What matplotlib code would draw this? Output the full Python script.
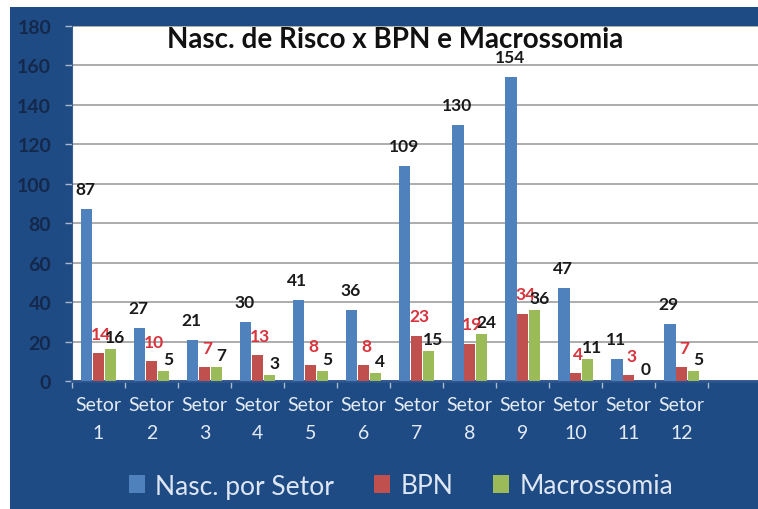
import matplotlib
matplotlib.use("Agg")
import matplotlib.pyplot as plt
from matplotlib.patches import Rectangle
import numpy as np

categories = ["Setor\n1", "Setor\n2", "Setor\n3", "Setor\n4", "Setor\n5", "Setor\n6",
              "Setor\n7", "Setor\n8", "Setor\n9", "Setor\n10", "Setor\n11", "Setor\n12"]
nasc = [87, 27, 21, 30, 41, 36, 109, 130, 154, 47, 11, 29]
bpn = [14, 10, 7, 13, 8, 8, 23, 19, 34, 4, 3, 7]
macro = [16, 5, 7, 3, 5, 4, 15, 24, 36, 11, 0, 5]
series_names = ["Nasc. por Setor", "BPN", "Macrossomia"]
yticks = [0, 20, 40, 60, 80, 100, 120, 140, 160, 180]
title = "Nasc. de Risco x BPN e Macrossomia"

plt.rcParams['font.family'] = ['Lato', 'DejaVu Sans']

W, H = 758, 510
fig = plt.figure(figsize=(W / 100, H / 100), dpi=100)
fig.patch.set_facecolor("white")
bg = "#1F4B84"
fig.patches.append(Rectangle((10 / W, 0.0), 1 - 10 / W, 1 - 8 / H, transform=fig.transFigure,
                             facecolor=bg, edgecolor="none", zorder=-10))

ax = fig.add_axes([72 / W, 1 - 382 / H, 1 - 72 / W, (382 - 27) / H])
ax.set_facecolor("white")

x = np.arange(len(categories))
w = 0.21
cols = ["#4F81BD", "#C0504D", "#9BBB59"]
b1 = ax.bar(x - 0.22, nasc, w, color=cols[0], label=series_names[0], zorder=3)
b2 = ax.bar(x, bpn, w, color=cols[1], label=series_names[1], zorder=3)
b3 = ax.bar(x + 0.22, macro, w, color=cols[2], label=series_names[2], zorder=3)

lfs = 12.5
for xi, v in zip(x, nasc):
    ax.annotate(str(v), (xi - 0.22, v), xytext=(-1, 14.4), textcoords="offset points",
                ha="center", va="center", fontsize=lfs, fontweight="bold", color="#1a1a1a", zorder=5)
for xi, v in zip(x, bpn):
    ax.annotate(str(v), (xi, v), xytext=(2, 14), textcoords="offset points",
                ha="center", va="center", fontsize=lfs, fontweight="bold", color="#D9343C", zorder=5)
for xi, v in zip(x, macro):
    ax.annotate(str(v), (xi + 0.22, v), xytext=(3.6, 8.6), textcoords="offset points",
                ha="center", va="center", fontsize=lfs, fontweight="bold", color="#1a1a1a", zorder=5)

ax.set_ylim(0, 180)
ax.set_xlim(-0.5, 12.44)
ax.set_yticks(yticks)
ax.set_yticklabels([str(t) for t in yticks], fontsize=14, fontweight="bold", color="#14284C")
ax.yaxis.grid(True, color="#A6A6A6", linewidth=1.3, zorder=0)
ax.tick_params(axis="y", length=5, width=1, color="#A9B8CF", pad=10)

ax.set_xticks(x)
ax.set_xticklabels(categories, fontsize=14, color="#E4EBF5", linespacing=1.8)
ax.tick_params(axis="x", which="major", length=0, pad=11)
ax.set_xticks(np.arange(-0.5, 12, 1), minor=True)
ax.tick_params(axis="x", which="minor", length=5, width=1, color="#A9B8CF")

for s in ["top", "right"]:
    ax.spines[s].set_visible(False)
ax.spines["left"].set_color("#3A5F93")
ax.spines["bottom"].set_color("#2D5590")
ax.spines["bottom"].set_linewidth(2)

fig.text(395 / W, 1 - 40 / H, title, ha="center", va="center", fontsize=20,
         fontweight="bold", color="#111111")

leg = fig.legend(handles=[b1, b2, b3], labels=series_names, loc="center",
                 bbox_to_anchor=(401 / W, 1 - 487 / H), ncol=3, frameon=False,
                 fontsize=19, handlelength=0.6, handleheight=0.65, handletextpad=0.4,
                 columnspacing=1.5)
for t in leg.get_texts():
    t.set_color("#DDE6F2")

fig.savefig("out.png", dpi=100, facecolor=fig.get_facecolor())
